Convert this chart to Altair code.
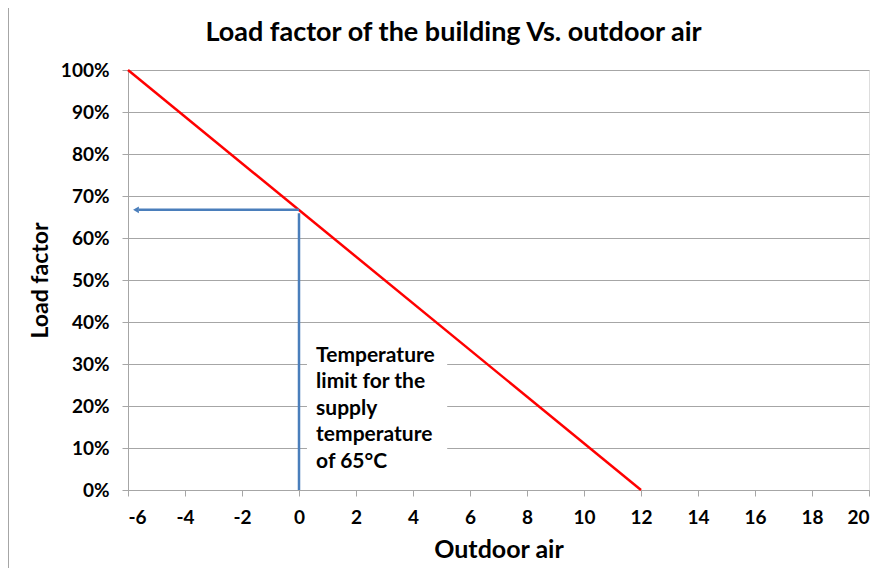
import altair as alt
import pandas as pd

# ---- data ----
line_x = [-6, 12]
line_y = [1.0, 0.0]

limit_x = [0]
limit_y = [0.667]
arrow_end_x = [-5.62]
arrow_tip_x = [-5.72]

note_lines = ["Temperature", "limit for the", "supply", "temperature", "of 65°C"]
note_y = [0.318, 0.256, 0.194, 0.132, 0.066]
note_x = 0.6
box_x = [0.28]
box_x2 = [5.2]
box_y = [0.012]
box_y2 = [0.37]

x_ticks = list(range(-6, 21, 2))
y_ticks = [i / 10 for i in range(0, 11)]

FONT = "Lato"
RED = "#FF0000"
BLUE = "#4A7EBB"
GRID = "#A6A6A6"

xscale = alt.Scale(domain=[-6, 20], nice=False, zero=False)
yscale = alt.Scale(domain=[0, 1], nice=False)

line_df = pd.DataFrame({"x": line_x, "y": line_y})

base_x = alt.X(
    "x:Q",
    scale=xscale,
    axis=alt.Axis(
        values=x_ticks, title="Outdoor air", grid=False,
        labelExpr="datum.value + ''",
        labelFont=FONT, labelFontSize=19, labelFontWeight="bold", labelColor="black",
        labelPadding=12, tickSize=6, tickColor=GRID, domainColor=GRID,
        titleFont=FONT, titleFontSize=25, titleFontWeight="bold", titleColor="black",
        titlePadding=10,
    ),
)
base_y = alt.Y(
    "y:Q",
    scale=yscale,
    axis=alt.Axis(
        values=y_ticks, format=".0%", title="Load factor", grid=True, gridColor=GRID,
        labelFont=FONT, labelFontSize=19, labelFontWeight="bold", labelColor="black",
        labelPadding=13, tickSize=6, tickColor=GRID, domainColor=GRID,
        titleFont=FONT, titleFontSize=23, titleFontWeight="bold", titleColor="black",
        titlePadding=8,
    ),
)

red_line = alt.Chart(line_df).mark_line(color=RED, strokeWidth=2.5).encode(x=base_x, y=base_y)

box_df = pd.DataFrame({"x": box_x, "x2": box_x2, "y": box_y, "y2": box_y2})
box = alt.Chart(box_df).mark_rect(color="white").encode(
    x=alt.X("x:Q", scale=xscale), x2="x2:Q",
    y=alt.Y("y:Q", scale=yscale), y2="y2:Q",
)

vert_df = pd.DataFrame({"x": limit_x, "y": [0.0], "y2": [limit_y[0] - 0.008]})
vert = alt.Chart(vert_df).mark_rule(color=BLUE, strokeWidth=2.5).encode(
    x=alt.X("x:Q", scale=xscale), y=alt.Y("y:Q", scale=yscale), y2="y2:Q"
)

horiz_df = pd.DataFrame({"x": limit_x, "x2": arrow_end_x, "y": limit_y})
horiz = alt.Chart(horiz_df).mark_rule(color=BLUE, strokeWidth=2.5).encode(
    x=alt.X("x:Q", scale=xscale), x2="x2:Q", y=alt.Y("y:Q", scale=yscale)
)

head_df = pd.DataFrame({"x": arrow_tip_x, "y": limit_y})
head = alt.Chart(head_df).mark_point(
    shape="triangle-left", filled=True, color=BLUE, size=45, opacity=1
).encode(x=alt.X("x:Q", scale=xscale), y=alt.Y("y:Q", scale=yscale))

note_df = pd.DataFrame({"t": note_lines, "x": [note_x] * len(note_lines), "y": note_y})
note = alt.Chart(note_df).mark_text(
    align="left", baseline="middle", font=FONT, fontSize=21, fontWeight="bold", color="black"
).encode(x=alt.X("x:Q", scale=xscale), y=alt.Y("y:Q", scale=yscale), text="t:N")

border = alt.Chart(pd.DataFrame({"x": [0]})).mark_rule(color=GRID, strokeWidth=1).encode(
    x=alt.value(-119.5), y=alt.value(-62), y2=alt.value(498)
)

chart = alt.layer(box, red_line, vert, horiz, head, note, border).properties(
    width=741,
    height=420,
    title=alt.TitleParams(
        "Load factor of the building Vs. outdoor air",
        font=FONT, fontSize=27, fontWeight="bold", color="black",
        anchor="middle", frame="group", dx=-45, dy=53, offset=14,
    ),
    autosize=alt.AutoSizeParams(type="none"),
    padding={"left": 120, "top": 62, "right": 5, "bottom": 78},
).configure_view(stroke=None).configure(background="white")

chart.save("out.html", embed_options={"renderer": "svg", "actions": False})
